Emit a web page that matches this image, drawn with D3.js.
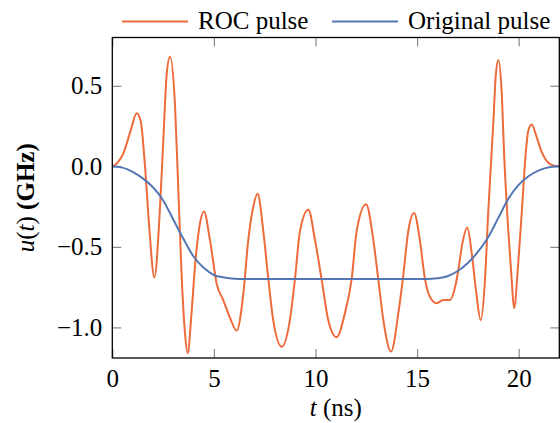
<!DOCTYPE html>
<html>
<head>
<meta charset="utf-8">
<script src="https://cdn.jsdelivr.net/npm/d3@7"></script>
<style>
  body { margin: 0; background: #fff; }
  svg { display: block; }
  text { font-family: "Liberation Serif", "Times New Roman", serif; fill: #000; }
</style>
</head>
<body>
<svg class="d3-content" width="560" height="423"></svg>
<script>
//data
const originalT = [0, 0.5, 1, 1.5, 2, 2.5, 3, 3.5, 4, 4.5, 5, 5.5, 6, 6.5, 15.5, 16, 16.5, 17, 17.5, 18, 18.5, 19, 19.5, 20, 20.5, 21, 21.5, 22]
const originalU = [0, -0.008, -0.035, -0.075, -0.13, -0.21, -0.33, -0.45, -0.56, -0.63, -0.675, -0.69, -0.698, -0.7, -0.7, -0.695, -0.682, -0.65, -0.6, -0.53, -0.44, -0.32, -0.2, -0.115, -0.06, -0.025, -0.005, 0]

const rocT = [0, 0.21, 0.54, 0.9, 1.2, 1.4, 1.61, 1.82, 2.07, 2.35, 2.51, 2.68, 2.84, 3.09, 3.25, 3.41, 3.58, 3.71, 3.9, 4.07, 4.28, 4.51,
    4.81, 5.14, 5.46, 5.79, 6.12, 6.45, 6.69, 6.94, 7.15, 7.43, 7.68, 7.92, 8.34, 8.74, 8.99, 9.24, 9.65, 9.98, 10.3, 10.63, 11.04,
    11.45, 11.78, 12.03, 12.49, 12.85, 13.09, 13.34, 13.72, 14.08, 14.3, 14.57, 14.85, 15.14, 15.39, 15.63, 15.96, 16.29, 16.62,
    16.87, 17.03, 17.2, 17.47, 17.69, 17.9, 18.13, 18.34, 18.5, 18.75, 18.88, 19.0, 19.16, 19.29, 19.49, 19.66, 19.77, 19.98,
    20.15, 20.36, 20.47, 20.64, 20.89, 21.13, 21.38, 21.7, 22]
const rocU = [0, 0.017, 0.079, 0.22, 0.33, 0.28, 0.0, -0.38, -0.69, -0.25, 0.16, 0.575, 0.68, 0.37, -0.15, -0.67, -1.04, -1.16, -0.91, -0.62, -0.38, -0.28,
    -0.46, -0.73, -0.83, -0.94, -1.02, -0.79, -0.46, -0.25, -0.17, -0.4, -0.7, -0.955, -1.12, -0.955, -0.7, -0.4, -0.27, -0.46, -0.7, -0.955, -1.06,
    -0.91, -0.7, -0.4, -0.235, -0.46, -0.7, -0.955, -1.15, -0.91, -0.7, -0.4, -0.29, -0.46, -0.7, -0.81, -0.85, -0.83, -0.83,
    -0.75, -0.645, -0.5, -0.38, -0.54, -0.77, -0.955, -0.71, -0.29, 0.265, 0.575, 0.66, 0.47, 0.06, -0.4, -0.71, -0.88, -0.6,
    -0.29, 0.1, 0.22, 0.26, 0.18, 0.09, 0.033, 0.006, 0]

const xTicks = [0, 5, 10, 15, 20]
const yTicks = [-1.0, -0.5, 0.0, 0.5]
const seriesNames = ["ROC pulse", "Original pulse"]

const rocData = rocT.map((t, i) => ({t: t, u: rocU[i]}))
const originalData = originalT.map((t, i) => ({t: t, u: originalU[i]}))

//dimensions
const margin = {top: 37.5, right: 0.7, bottom: 65, left: 112.3}
const w = 560
const h = 423
const colors = {roc: "#ee6a3a", original: "#5477b4"}
const fontSize = '25px'

const svg = d3.select('.d3-content')

//scales
const xScale = d3.scaleLinear()
    .domain([0, 22])
    .range([margin.left, w - margin.right])
const yScale = d3.scaleLinear()
    .domain([-1.19, 0.8])
    .range([h - margin.bottom, margin.top])

//ticks inside the box, on all four sides
const tickLen = 9
const fmt = d => d3.format(".1f")(d).replace("-", "\u2212")

svg.append('g')
    .attr('transform', `translate(0, ${h - margin.bottom})`)
    .call(d3.axisBottom(xScale).tickValues(xTicks).tickSizeInner(-tickLen).tickSizeOuter(0).tickPadding(11).tickFormat(d3.format('d')))
svg.append('g')
    .attr('transform', `translate(0, ${margin.top})`)
    .call(d3.axisTop(xScale).tickValues(xTicks).tickSizeInner(-tickLen).tickSizeOuter(0).tickFormat(''))
svg.append('g')
    .attr('transform', `translate(${margin.left}, 0)`)
    .call(d3.axisLeft(yScale).tickValues(yTicks).tickSizeInner(-tickLen).tickSizeOuter(0).tickPadding(10).tickFormat(fmt))
svg.append('g')
    .attr('transform', `translate(${w - margin.right}, 0)`)
    .call(d3.axisRight(yScale).tickValues(yTicks).tickSizeInner(-tickLen).tickSizeOuter(0).tickFormat(''))

svg.selectAll('.domain').remove()
svg.selectAll('.tick line')
    .attr('stroke', '#8a8a8a')
    .attr('stroke-width', 1.2)
svg.selectAll('.tick text')
    .style('font-family', '"Liberation Serif", serif')
    .style('font-size', fontSize)
    .attr('fill', '#000')

//lines
const line = d3.line()
    .x(d => xScale(d.t))
    .y(d => yScale(d.u))
    .curve(d3.curveMonotoneX)

svg.append('defs')
    .append('clipPath')
    .attr('id', 'plot-clip')
    .append('rect')
    .attr('x', margin.left)
    .attr('y', margin.top)
    .attr('width', w - margin.left - margin.right)
    .attr('height', h - margin.top - margin.bottom)

const plot = svg.append('g').attr('clip-path', 'url(#plot-clip)')
plot.append('path')
    .attr('d', line(rocData))
    .attr('fill', 'none')
    .attr('stroke', colors.roc)
    .attr('stroke-width', 2)
plot.append('path')
    .attr('d', line(originalData))
    .attr('fill', 'none')
    .attr('stroke', colors.original)
    .attr('stroke-width', 2)

//frame
svg.append('rect')
    .attr('x', margin.left)
    .attr('y', margin.top)
    .attr('width', w - margin.left - margin.right)
    .attr('height', h - margin.top - margin.bottom)
    .attr('fill', 'none')
    .attr('stroke', '#000')
    .attr('stroke-width', 1.3)

//axis labels
const xLabel = svg.append('text')
    .attr('x', (margin.left + w - margin.right) / 2)
    .attr('y', 416)
    .attr('text-anchor', 'middle')
    .style('font-size', fontSize)
xLabel.append('tspan').style('font-style', 'italic').text('t')
xLabel.append('tspan').text(' (ns)')

const yLabel = svg.append('text')
    .attr('transform', `translate(34, ${(margin.top + h - margin.bottom) / 2}) rotate(-90)`)
    .attr('text-anchor', 'middle')
    .style('font-size', fontSize)
yLabel.append('tspan').style('font-style', 'italic').text('u')
yLabel.append('tspan').text('(')
yLabel.append('tspan').style('font-style', 'italic').text('t')
yLabel.append('tspan').text(') ')
yLabel.append('tspan').style('font-weight', 'bold').text('(GHz)')

//legend
const legendItems = [
    {name: seriesNames[0], color: colors.roc, x: 122},
    {name: seriesNames[1], color: colors.original, x: 332}
]
const legend = svg.append('g')
legend.selectAll('line')
    .data(legendItems)
    .join('line')
    .attr('x1', d => d.x)
    .attr('x2', d => d.x + 66)
    .attr('y1', 21.5)
    .attr('y2', 21.5)
    .attr('stroke', d => d.color)
    .attr('stroke-width', 2)
legend.selectAll('text')
    .data(legendItems)
    .join('text')
    .attr('x', d => d.x + 76)
    .attr('y', 28.5)
    .style('font-size', fontSize)
    .text(d => d.name)
</script>
</body>
</html>
